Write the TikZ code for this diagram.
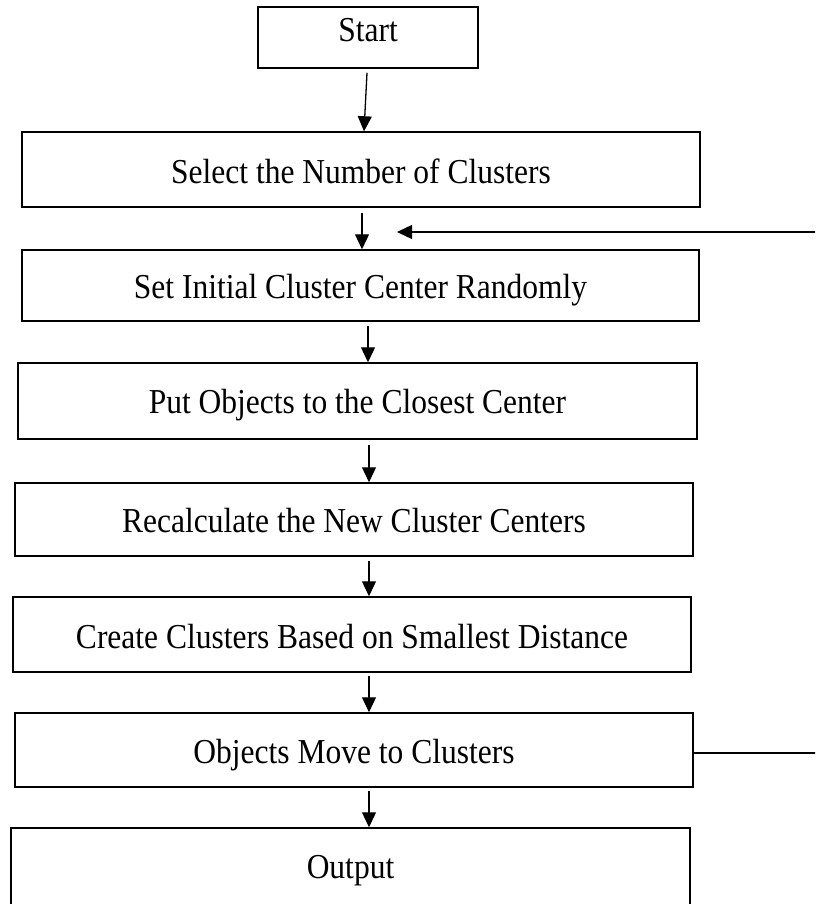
\documentclass[tikz,border=0pt]{standalone}
\usepackage{fontspec}
\setmainfont{Liberation Serif}[FakeStretch=0.9]
\usetikzlibrary{arrows.meta}
\begin{document}
\begin{tikzpicture}[x=1pt,y=-1pt,
  box/.style={draw=black, line width=1.5pt, rectangle, inner sep=0pt},
  lbl/.style={anchor=base, inner sep=0pt, font=\fontsize{35}{40}\selectfont},
  arr/.style={line width=1.3pt, -{Triangle[length=15pt,width=14pt]}},
  conn/.style={line width=1.3pt}]
\useasboundingbox (0,0) rectangle (815,904);
\clip (0,0) rectangle (815,904);
% boxes
\node[box, minimum width=220pt, minimum height=61pt] (start) at (368,37.5) {};
\node[box, minimum width=678pt, minimum height=75pt] (sel) at (361,169.5) {};
\node[box, minimum width=677pt, minimum height=71pt] (set) at (360.5,285.5) {};
\node[box, minimum width=679pt, minimum height=76pt] (put) at (357.5,401) {};
\node[box, minimum width=678pt, minimum height=73pt] (rec) at (354,519.5) {};
\node[box, minimum width=678pt, minimum height=75pt] (cre) at (352,634.5) {};
\node[box, minimum width=678pt, minimum height=74pt] (obj) at (354,750) {};
\node[box, minimum width=679pt, minimum height=102pt] (out) at (350.5,879) {};
% labels
\node[lbl] (startT) at (368,42) {Start};
\node[lbl] (selT) at (361,183) {Select the Number of Clusters};
\node[lbl] (setT) at (360.5,298) {Set Initial Cluster Center Randomly};
\node[lbl] (putT) at (357.5,413) {Put Objects to the Closest Center};
\node[lbl] (recT) at (354,532) {Recalculate the New Cluster Centers};
\node[lbl] (creT) at (352,648) {Create Clusters Based on Smallest Distance};
\node[lbl] (objT) at (354,763) {Objects Move to Clusters};
\node[lbl] (outT) at (350.5,878) {Output};
% arrow columns
\coordinate (c1a) at (367,0);
\coordinate (c1b) at (364,0);
\coordinate (c2) at (362,0);
\coordinate (c3) at (368,0);
\coordinate (c4) at (369,0);
\coordinate (fbtip) at (397,232);
\coordinate (rgt) at (840,0);
% arrows
\draw[arr] ([yshift=-4pt]start.south -| c1a) -- (sel.north -| c1b);
\draw[arr] ([yshift=-5pt]sel.south -| c2) -- (set.north -| c2);
\draw[arr] ([yshift=-4pt]set.south -| c3) -- (put.north -| c3);
\draw[arr] ([yshift=-5pt]put.south -| c4) -- (rec.north -| c4);
\draw[arr] ([yshift=-4pt]rec.south -| c4) -- (cre.north -| c4);
\draw[arr] ([yshift=-3pt]cre.south -| c4) -- (obj.north -| c4);
\draw[arr] ([yshift=-3pt]obj.south -| c4) -- (out.north -| c4);
% feedback loop
\draw[arr] ([yshift=-3pt]obj.east) -- ([yshift=-3pt]obj.east -| rgt) -- (rgt |- fbtip) -- (fbtip);
\end{tikzpicture}
\end{document}
